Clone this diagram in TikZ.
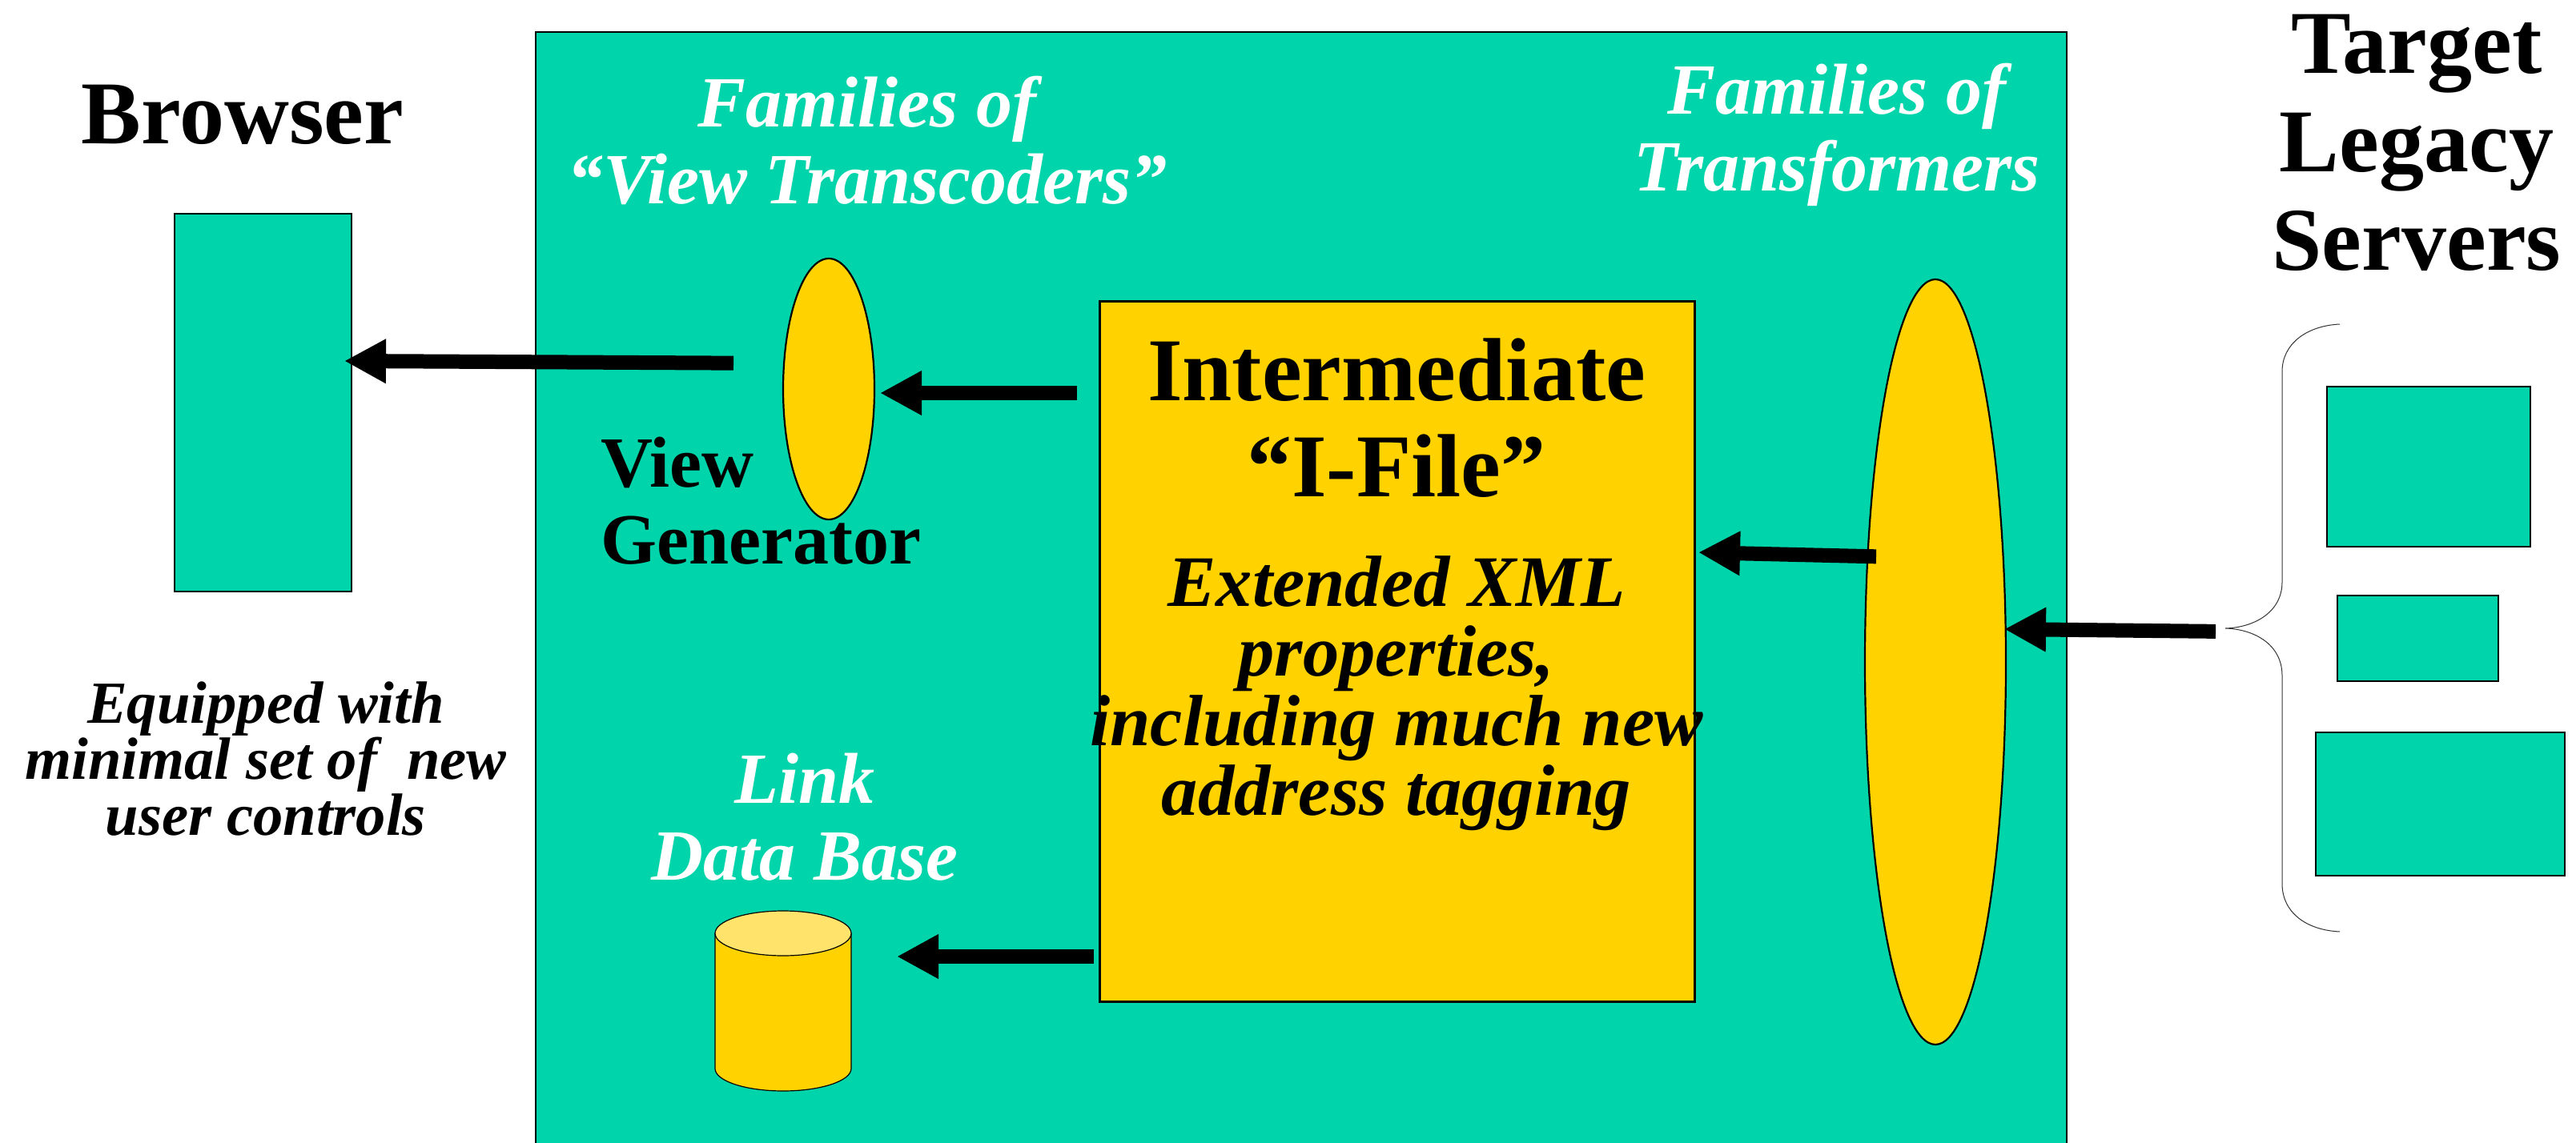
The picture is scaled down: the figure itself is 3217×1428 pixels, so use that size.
\documentclass[tikz,border=0pt]{standalone}
\usepackage{fontspec}
\setmainfont{Liberation Serif}
\usetikzlibrary{arrows.meta,shapes.geometric}
\definecolor{teal0}{RGB}{0,212,170}
\definecolor{gold0}{RGB}{255,210,0}
\definecolor{gold1}{RGB}{255,227,106}
\newcommand{\fsz}[2]{\fontsize{#1pt}{#2pt}\selectfont}
\tikzset{
  x=0.5pt,y=-0.5pt,
  tealbox/.style={draw=black,line width=1pt,fill=teal0,inner sep=0pt,outer sep=0pt},
  srvbox/.style={draw=black,line width=1.4pt,fill=teal0,inner sep=0pt,outer sep=0pt},
  oval/.style={ellipse,draw=black,line width=1.1pt,fill=gold0,inner sep=0pt,outer sep=0pt},
  bigarrow/.style={line width=9pt,-{Triangle[length=26pt,width=26pt]},black},
  lbl/.style={inner sep=0pt,outer sep=0pt,align=center,font=\bfseries},
  wital/.style={lbl,text=white,font=\bfseries\itshape},
  kital/.style={lbl,text=black,font=\bfseries\itshape},
}
\begin{document}
\begin{tikzpicture}
\useasboundingbox (0,0) rectangle (3217,1428);
% main panel
\node[fill=teal0,inner sep=0pt,outer sep=0pt,minimum width=1912*0.5pt,minimum height=1388*0.5pt] (main) at (1625,734) {};
\draw[black,line width=1pt] (main.south west) -- (main.north west) -- (main.north east) -- (main.south east);
% browser
\node[tealbox,minimum width=110.5pt,minimum height=236pt] (browser) at (328.5,503) {};
% ovals
\node[oval,minimum width=57pt,minimum height=163pt] (vg) at (1035,486) {};
\node[oval,minimum width=88pt,minimum height=478pt] (tf) at (2417,827) {};
% I-file
\node[draw=black,line width=1.5pt,fill=gold0,inner sep=0pt,outer sep=0pt,minimum width=371.5pt,minimum height=437pt] (ifile) at (1744.5,814) {};
% cylinder
\node[inner sep=0pt,outer sep=0pt,minimum width=85pt,minimum height=112.5pt] (db) at (978,1250.5) {};
\draw[black,line width=0.6pt,fill=gold0] (db.west |- 0,1166) -- (db.west |- 0,1335) arc[start angle=180,end angle=0,x radius=85,y radius=28] -- (db.east |- 0,1166) -- cycle;
\draw[black,line width=0.6pt,fill=gold1] (978,1166) ellipse[x radius=85,y radius=28];
% servers
\node[srvbox,minimum width=127pt,minimum height=100pt] (s1) at (3033,583) {};
\node[srvbox,minimum width=100.5pt,minimum height=53.5pt] (s2) at (3019.5,797.5) {};
\node[srvbox,minimum width=155.5pt,minimum height=89.5pt] (s3) at (3047.5,1004.5) {};
% brace
\coordinate (bracetip) at (2779,785);
\draw[black!80,line width=0.5pt] (2922,405) .. controls (2880,407) and (2850,430) .. (2850,464) -- (2850,727) .. controls (2850,765) and (2815,784) .. (bracetip) .. controls (2815,786) and (2850,805) .. (2850,844) -- (2850,1104) .. controls (2850,1140) and (2880,1162) .. (2922,1164);
% arrows
\draw[bigarrow,shorten <=31pt,shorten >=-4.5pt] (vg.west |- 0,454) -- (browser.east |- 0,451);
\draw[bigarrow,shorten <=14pt,shorten >=3.5pt] (ifile.west |- 0,491) -- (vg.east |- 0,491);
\draw[bigarrow,shorten <=3.5pt,shorten >=28.5pt] (ifile.west |- 0,1195) -- (db.east |- 0,1195);
\draw[bigarrow,shorten <=-7pt,shorten >=2.5pt] (tf.west |- 0,695) -- (ifile.east |- 0,690);
\draw[bigarrow,shorten <=6pt,shorten >=-1pt] (bracetip |- 0,789) -- (tf.east |- 0,786);
% labels
\node[lbl,font=\bfseries\fsz{56}{60}] (t1) at (303,143) {Browser};
\node[lbl,font=\bfseries\fsz{56}{61.5}] (t2) at (3018,178) {Target\\Legacy\\Servers};
\node[wital,font=\bfseries\itshape\fsz{45}{48}] (t3) at (1083,175) {Families of\\“View Transcoders”};
\node[wital,font=\bfseries\itshape\fsz{45}{48}] (t4) at (2294,168) {Families of\\Transformers};
\node[lbl,font=\bfseries\fsz{45}{48},align=left] (t5) at (950,626) {View\\Generator};
\node[lbl,font=\bfseries\fsz{56}{60}] (t6) at (1744,522) {Intermediate\\“I-File”};
\node[kital,font=\bfseries\itshape\fsz{45.3}{43.5}] (t7) at (1744,866) {Extended XML\\properties,\\including much new\\address tagging};
\node[wital,font=\bfseries\itshape\fsz{45}{48}] (t8) at (1005,1021) {Link\\Data Base};
\node[kital,font=\bfseries\itshape\fsz{37.3}{33}] (t9) at (332,948) {Equipped with\\minimal set of\ \ new\\user controls};
\end{tikzpicture}
\end{document}
